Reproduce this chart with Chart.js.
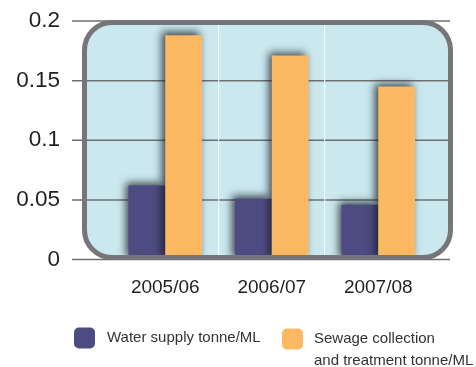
<!DOCTYPE html>
<html>
<head>
<meta charset="utf-8">
<script src="https://cdn.jsdelivr.net/npm/chart.js@4/dist/chart.umd.min.js"></script>
<style>
  html, body { margin: 0; padding: 0; background: #ffffff; }
  #wrap { width: 476px; height: 367px; }
</style>
</head>
<body>
<div id="wrap"><canvas id="chart" width="476" height="367"></canvas></div>
<script>
// Tonnes per megalitre, by financial year
const categories = ['2005/06', '2006/07', '2007/08'];
const waterSupply = [0.062, 0.051, 0.046];
const sewageTreatment = [0.188, 0.171, 0.145];
const yTickValues = [0, 0.05, 0.1, 0.15, 0.2];
const yTickLabels = ['0', '0.05', '0.1', '0.15', '0.2'];
const seriesNames = [
  'Water supply tonne/ML',
  ['Sewage collection', 'and treatment tonne/ML']
];

const PURPLE = '#4e4b82';
const ORANGE = '#fdb862';
const PANEL_FILL = '#cae8ee';
const PANEL_EDGE = '#767579';
const GRID = '#6f6f73';
const TEXT = '#231f20';

function roundRect(ctx, x, y, w, h, r) {
  ctx.beginPath();
  ctx.moveTo(x + r, y);
  ctx.lineTo(x + w - r, y);
  ctx.arcTo(x + w, y, x + w, y + r, r);
  ctx.lineTo(x + w, y + h - r);
  ctx.arcTo(x + w, y + h, x + w - r, y + h, r);
  ctx.lineTo(x + r, y + h);
  ctx.arcTo(x, y + h, x, y + h - r, r);
  ctx.lineTo(x, y + r);
  ctx.arcTo(x, y, x + r, y, r);
  ctx.closePath();
}

function panelBox(chart) {
  const a = chart.chartArea;
  return { left: a.left - 30, right: a.right + 21.5, top: a.top - 1, bottom: a.bottom + 0.5 };
}

function withShadow(ctx) {
  ctx.shadowColor = 'rgba(20, 25, 35, 0.8)';
  ctx.shadowBlur = 8;
  ctx.shadowOffsetX = -3;
  ctx.shadowOffsetY = -3;
}

// Rounded light-blue panel behind the plot, with horizontal rules that run out to the tick labels
const panelPlugin = {
  id: 'panel',
  beforeDraw(chart) {
    const ctx = chart.ctx;
    const p = panelBox(chart);
    ctx.save();
    roundRect(ctx, p.left + 2.5, p.top + 2.5, p.right - p.left - 5, p.bottom - p.top - 5, 27.5);
    ctx.fillStyle = PANEL_FILL;
    ctx.fill();
    const y = chart.scales.y;
    ctx.strokeStyle = GRID;
    ctx.lineWidth = 1.5;
    yTickValues.forEach(v => {
      const py = y.getPixelForValue(v);
      ctx.beginPath();
      ctx.moveTo(72, py);
      ctx.lineTo(p.right - 3, py);
      ctx.stroke();
    });
    ctx.restore();
  }
};

// Bars with a soft drop shadow up and to the left; the sewage series is painted last
// so its shadow falls across the neighbouring water-supply bar
const shadowPlugin = {
  id: 'barShadow',
  beforeDatasetDraw(chart, args) {
    if (args.index === 1) return false;
    chart.ctx.save();
    withShadow(chart.ctx);
  },
  afterDatasetDraw(chart, args) {
    if (args.index !== 1) chart.ctx.restore();
  },
  afterDatasetsDraw(chart) {
    const ctx = chart.ctx;
    const a = chart.chartArea;
    ctx.save();
    ctx.beginPath();
    ctx.rect(a.left - 40, a.top, a.right - a.left + 80, a.bottom - a.top);
    ctx.clip();
    withShadow(ctx);
    chart.getDatasetMeta(1).controller.draw();
    ctx.restore();

    // panel outline on top of the bar feet
    const p = panelBox(chart);
    ctx.save();
    roundRect(ctx, p.left + 2.5, p.top + 2.5, p.right - p.left - 5, p.bottom - p.top - 5, 27.5);
    ctx.strokeStyle = PANEL_EDGE;
    ctx.lineWidth = 5;
    ctx.stroke();
    ctx.restore();
  }
};

// Legend below the axis; the second entry wraps onto two lines
const legendPlugin = {
  id: 'twoLineLegend',
  afterDraw(chart) {
    const ctx = chart.ctx;
    const ds = chart.data.datasets;
    const entries = [
      { box: 74, text: 107, y: 338 },
      { box: 282, text: 314, y: 339 }
    ];
    ctx.save();
    ctx.font = '15px "Liberation Sans", Arial, sans-serif';
    ctx.textBaseline = 'middle';
    ctx.textAlign = 'left';
    ds.forEach((d, i) => {
      const e = entries[i];
      ctx.fillStyle = d.backgroundColor;
      roundRect(ctx, e.box, e.y - 10.5, 21, 21, 5);
      ctx.fill();
      ctx.fillStyle = '#333333';
      const lines = Array.isArray(d.label) ? d.label : [d.label];
      lines.forEach((t, k) => ctx.fillText(t, e.text, e.y + k * 21.5));
    });
    ctx.restore();
  }
};

new Chart(document.getElementById('chart'), {
  type: 'bar',
  data: {
    labels: categories,
    datasets: [
      { label: seriesNames[0], data: waterSupply, backgroundColor: PURPLE },
      { label: seriesNames[1], data: sewageTreatment, backgroundColor: ORANGE }
    ]
  },
  options: {
    responsive: false,
    devicePixelRatio: 1,
    animation: false,
    events: [],
    layout: { padding: { left: 0, right: 44.5, top: 21, bottom: 47.5 } },
    datasets: {
      bar: { categoryPercentage: 0.69, barPercentage: 1, borderWidth: 0 }
    },
    plugins: {
      legend: { display: false },
      tooltip: { enabled: false }
    },
    scales: {
      x: {
        offset: true,
        border: { display: false },
        grid: {
          display: true,
          offset: true,
          drawTicks: false,
          lineWidth: 1.2,
          color: c => (c.index === 1 || c.index === 2) ? 'rgba(255,255,255,0.85)' : 'rgba(0,0,0,0)'
        },
        ticks: {
          padding: 17,
          color: TEXT,
          font: { family: '"Liberation Sans", Arial, sans-serif', size: 19 }
        },
        afterFit(scale) { scale.height = 60; }
      },
      y: {
        min: 0,
        max: 0.2,
        border: { display: false },
        grid: { display: false, drawTicks: false },
        afterBuildTicks(scale) {
          scale.ticks = yTickValues.map(v => ({ value: v }));
        },
        ticks: {
          padding: 52,
          color: TEXT,
          font: { family: '"Liberation Sans", Arial, sans-serif', size: 22.5 },
          callback: (v, i) => yTickLabels[i]
        },
        afterFit(scale) {
          scale.width = 112;
          scale.paddingTop = 0;
          scale.paddingBottom = 0;
        }
      }
    }
  },
  plugins: [panelPlugin, shadowPlugin, legendPlugin]
});
</script>
</body>
</html>
